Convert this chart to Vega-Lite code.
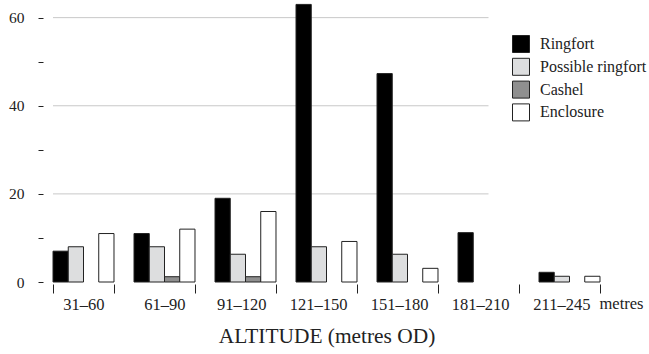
{
  "$schema": "https://vega.github.io/schema/vega-lite/v6.json",
  "autosize": "none",
  "width": 567,
  "height": 282,
  "padding": {"left": 43, "top": 0, "right": 39, "bottom": 72},
  "background": "white",
  "config": {
    "view": {"stroke": null},
    "font": "Liberation Serif",
    "axis": {"labelFont": "Liberation Serif", "titleFont": "Liberation Serif", "labelColor": "#222", "titleColor": "#222", "tickColor": "#222", "grid": false, "domain": false},
    "legend": {"labelFont": "Liberation Serif"}
  },
  "datasets": {
    "grid": [{"v": 20}, {"v": 40}, {"v": 60}],
    "unit": [{"alt": "211–245", "unit": "metres"}],
    "counts": [
      {"alt": "31–60", "type": "Ringfort", "n": 7},
      {"alt": "31–60", "type": "Possible ringfort", "n": 8},
      {"alt": "31–60", "type": "Enclosure", "n": 11},
      {"alt": "61–90", "type": "Ringfort", "n": 11},
      {"alt": "61–90", "type": "Possible ringfort", "n": 8},
      {"alt": "61–90", "type": "Cashel", "n": 1.2},
      {"alt": "61–90", "type": "Enclosure", "n": 12},
      {"alt": "91–120", "type": "Ringfort", "n": 19},
      {"alt": "91–120", "type": "Possible ringfort", "n": 6.3},
      {"alt": "91–120", "type": "Cashel", "n": 1.2},
      {"alt": "91–120", "type": "Enclosure", "n": 16},
      {"alt": "121–150", "type": "Ringfort", "n": 63},
      {"alt": "121–150", "type": "Possible ringfort", "n": 8},
      {"alt": "121–150", "type": "Enclosure", "n": 9.2},
      {"alt": "151–180", "type": "Ringfort", "n": 47.3},
      {"alt": "151–180", "type": "Possible ringfort", "n": 6.3},
      {"alt": "151–180", "type": "Enclosure", "n": 3.1},
      {"alt": "181–210", "type": "Ringfort", "n": 11.2},
      {"alt": "211–245", "type": "Ringfort", "n": 2.2},
      {"alt": "211–245", "type": "Possible ringfort", "n": 1.3},
      {"alt": "211–245", "type": "Enclosure", "n": 1.3}
    ]
  },
  "layer": [
    {
      "data": {"name": "grid"},
      "mark": {"type": "rule", "color": "#c8c8c8", "strokeWidth": 1},
      "encoding": {
        "y": {"field": "v", "type": "quantitative"},
        "x": {"datum": "31–60", "type": "nominal", "bandPosition": 0},
        "x2": {"datum": "181–210"}
      }
    },
    {
      "data": {"name": "counts"},
      "mark": {"type": "bar", "stroke": "#222", "strokeWidth": 1},
      "encoding": {
        "x": {
          "field": "alt", "type": "nominal", "sort": null,
          "scale": {"domain": ["31–60", "61–90", "91–120", "121–150", "151–180", "181–210", "211–245"], "paddingInner": 0.247, "paddingOuter": 0.1235},
          "axis": {
            "title": "ALTITUDE (metres OD)", "titleFont": "Liberation Serif", "titleFontSize": 21.4, "titleFontWeight": "normal", "titlePadding": 13,
            "labelFont": "Liberation Serif", "labelAngle": 0, "labelFontSize": 16.5, "labelPadding": 11, "tickBand": "extent", "tickSize": 9, "offset": 2,
            "labelOffset": 20.5
          }
        },
        "xOffset": {"field": "type", "type": "nominal", "scale": {"domain": ["Ringfort", "Possible ringfort", "Cashel", "Enclosure"], "paddingInner": 0, "paddingOuter": 0}},
        "y": {
          "field": "n", "type": "quantitative",
          "scale": {"domain": [0, 64], "nice": false},
          "axis": {
            "title": null, "values": [0, 10, 20, 30, 40, 50, 60], "labelFont": "Liberation Serif", "labelFontSize": 15.5, "tickSize": 5, "labelPadding": 14,
            "labelExpr": "datum.value % 20 == 0 ? datum.label : ''"
          }
        },
        "fill": {
          "field": "type", "type": "nominal",
          "scale": {"domain": ["Ringfort", "Possible ringfort", "Cashel", "Enclosure"], "range": ["#000000", "#dddedf", "#8f8f8f", "#ffffff"]},
          "legend": {
            "title": null, "orient": "none", "legendX": 469, "legendY": 35, "padding": 0,
            "symbolType": "square", "symbolSize": 289, "symbolStrokeColor": "#222", "symbolStrokeWidth": 1, "symbolOpacity": 1,
            "labelFont": "Liberation Serif", "labelFontSize": 16, "labelColor": "#222", "labelOffset": 10, "rowPadding": 0.8
          }
        }
      }
    },
    {
      "data": {"name": "unit"},
      "mark": {"type": "text", "font": "Liberation Serif", "fontSize": 16.5, "color": "#222", "align": "left", "baseline": "top", "dx": 30, "dy": 14},
      "encoding": {
        "x": {"field": "alt", "type": "nominal"},
        "y": {"datum": 0},
        "text": {"field": "unit"}
      }
    }
  ]
}
